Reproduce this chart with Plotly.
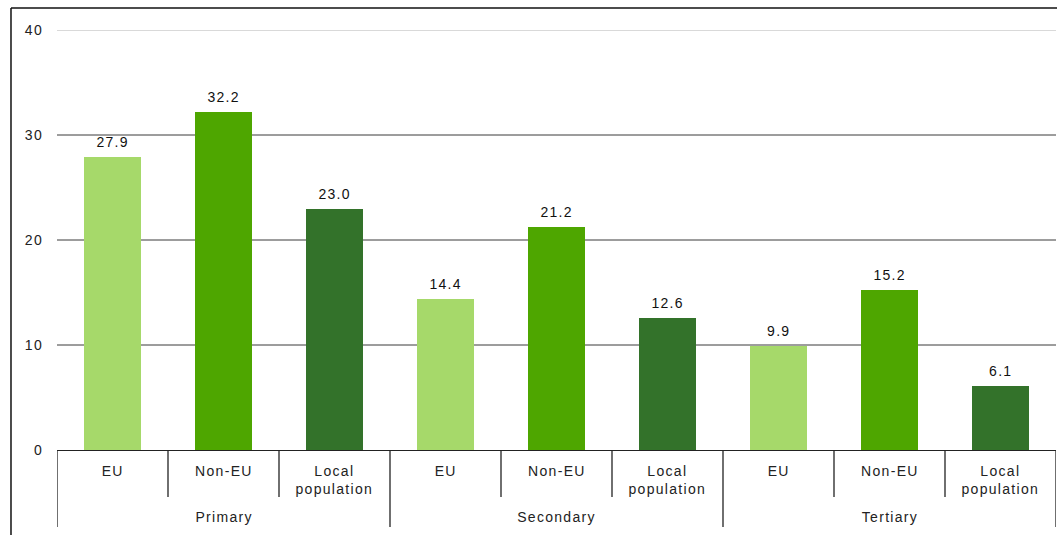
import plotly.graph_objects as go

# Share of people (%) by education level and origin
groups = ["Primary", "Secondary", "Tertiary"]
origins = ["EU", "Non-EU", "Local<br>population"]
values_eu = [27.9, 14.4, 9.9]
values_non_eu = [32.2, 21.2, 15.2]
values_local = [23.0, 12.6, 6.1]
y_ticks = [0, 10, 20, 30, 40]

colors = ["#a6d96a", "#4ea600", "#33722a"]
series = [values_eu, values_non_eu, values_local]

lab_font = dict(family="Liberation Sans, Arial, sans-serif", size=14, color="#222222")

fig = go.Figure()
annotations = []

n_origins = len(origins)
for k, (name, vals, col) in enumerate(zip(origins, series, colors)):
    xs = [g * n_origins + k for g in range(len(groups))]
    fig.add_trace(go.Bar(
        x=xs, y=vals, name=name, marker=dict(color=col, line=dict(width=0)),
        width=0.51, showlegend=False,
    ))
    # value labels above each bar
    for x, v in zip(xs, vals):
        annotations.append(dict(x=x, y=v, xref="x", yref="y", text=f"{v:.1f}",
                                showarrow=False, yanchor="bottom", yshift=5,
                                font=dict(lab_font, color="#111111")))

n_cats = n_origins * len(groups)
shapes = []

# Horizontal gridlines
for v in y_ticks[1:]:
    top = v == max(y_ticks)
    shapes.append(dict(type="line", xref="paper", yref="y", x0=0, x1=1, y0=v, y1=v,
                       line=dict(color="#cccccc" if top else "#3a3a3a", width=1.5 if top else 1),
                       layer="below"))

# Category separators under the axis: short between origins, long between groups
for i in range(n_cats + 1):
    long_tick = i % n_origins == 0
    shapes.append(dict(type="line", xref="x", yref="paper", ysizemode="pixel", yanchor=0,
                       x0=i - 0.5, x1=i - 0.5, y0=0, y1=-77 if long_tick else -47,
                       line=dict(color="#222222", width=1.3)))

# Frame around the chart (left and top edges)
shapes.append(dict(type="line", xref="paper", yref="paper", x0=-0.04605, x1=-0.04605,
                   y0=1.0524, y1=-0.21, line=dict(color="#111111", width=1.5)))
shapes.append(dict(type="line", xref="paper", yref="paper", x0=-0.04605, x1=1.01,
                   y0=1.0524, y1=1.0524, line=dict(color="#111111", width=1.5)))

for g, gname in enumerate(groups):
    for k, oname in enumerate(origins):
        annotations.append(dict(x=g * n_origins + k, y=0, xref="x", yref="paper",
                                text=oname, showarrow=False, yanchor="top", yshift=-11,
                                font=lab_font, align="center"))
    annotations.append(dict(x=g * n_origins + (n_origins - 1) / 2, y=0, xref="x", yref="paper",
                            text=gname, showarrow=False, yanchor="top", yshift=-57,
                            font=lab_font))

fig.update_layout(
    width=1057, height=535,
    margin=dict(l=57, r=1, t=30, b=85),
    paper_bgcolor="white", plot_bgcolor="white",
    bargap=0, shapes=shapes, annotations=annotations,
    xaxis=dict(range=[-0.5, n_cats - 0.5], showticklabels=False, showgrid=False,
               zeroline=False, showline=True, linecolor="#222222", linewidth=1.3, ticks=""),
    yaxis=dict(range=[0, 40], tickvals=y_ticks, showgrid=False, zeroline=False,
               ticklabelstandoff=13, tickfont=lab_font, showline=False),
    font=lab_font,
)

fig.write_html("out.html", post_script="""
var s = document.createElement('style');
s.innerHTML = '.main-svg text { letter-spacing: 1.3px; }';
document.head.appendChild(s);
""")
